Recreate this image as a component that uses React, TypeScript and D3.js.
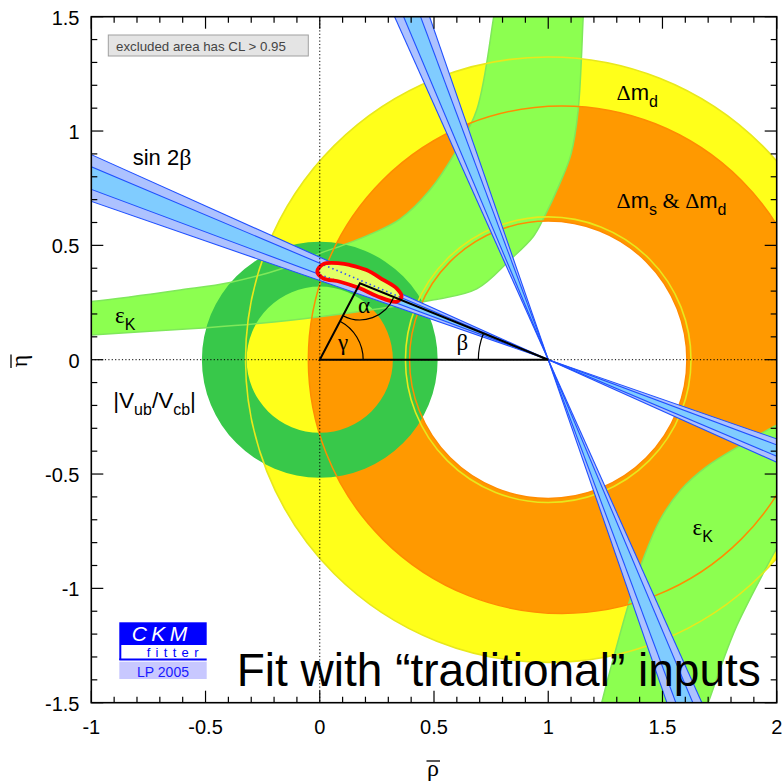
import React from "react";
import * as d3 from "d3";

const WIDTH = 782;
const HEIGHT = 784;

const rhoDomain = [-1, 2];
const etaDomain = [-1.5, 1.5];
const rhoTickValues = [-1, -0.5, 0, 0.5, 1, 1.5, 2];
const rhoTickLabels = ["-1", "-0.5", "0", "0.5", "1", "1.5", "2"];
const etaTickValues = [-1.5, -1, -0.5, 0, 0.5, 1, 1.5];
const etaTickLabels = ["-1.5", "-1", "-0.5", "0", "0.5", "1", "1.5"];

// Δm_d ring (centre, radii)
const dmdCenter = [1, 0];
const dmdRadii = [0.625, 1.325];
// Δm_s & Δm_d region: inner circle and outer circle [cx, cy, r]
const dmsInnerCircle = [1, 0, 0.607];
const dmsOuterCircle = [1.06, 0, 1.11];
// |Vub/Vcb| ring
const vubCenter = [0, 0];
const vubRadii = [0.32, 0.516];
// sin 2β: β ranges in degrees
const betaOuterRange = [19.1, 24.15];
const betaInnerRange = [20.43, 22.88];

// ε_K boundaries [ρ, η]
const epsKUpperTop = [
  [-1.1, 0.245], [-1, 0.254], [-0.611, 0.305], [-0.393, 0.338], [-0.16, 0.4],
  [0, 0.465], [0.1, 0.5], [0.22, 0.548], [0.351, 0.615], [0.48, 0.74],
  [0.599, 0.917], [0.687, 1.092], [0.759, 1.485], [0.775, 1.6],
];
const epsKUpperBottom = [
  [-1.1, 0.1], [-1, 0.108], [-0.495, 0.14], [-0.26, 0.159], [0, 0.188],
  [0.25, 0.222], [0.5, 0.262], [0.687, 0.31], [0.832, 0.436], [0.934, 0.538],
  [0.978, 0.615], [1.051, 0.771], [1.1, 0.9], [1.131, 1.09], [1.153, 1.5], [1.158, 1.6],
];
const epsKLowerInner = [
  [1.21, -1.6], [1.234, -1.5], [1.299, -1.255], [1.357, -1.051], [1.42, -0.86],
  [1.489, -0.701], [1.58, -0.57], [1.693, -0.468], [1.85, -0.37], [2.0, -0.286], [2.1, -0.24],
];
const epsKLowerOuter = [
  [1.66, -1.6], [1.7, -1.5], [1.76, -1.33], [1.824, -1.167], [1.926, -0.963],
  [2.0, -0.825], [2.08, -0.7],
];

// best fit apex and 95% CL contour
const apex = [0.176, 0.334];
const clContour = [
  [0.0153, 0.418], [0.0884, 0.4215], [0.132, 0.414], [0.205, 0.392], [0.278, 0.349],
  [0.3365, 0.312], [0.358, 0.2755], [0.3365, 0.2536], [0.249, 0.2785], [0.176, 0.312],
  [0.0884, 0.341], [0.0153, 0.356], [-0.011, 0.385],
];

const SANS = "'Liberation Sans', Arial, Helvetica, sans-serif";
const SERIF = "'Liberation Serif', 'DejaVu Serif', serif";

export default function App() {
  const left = 91.3, right = 776.7, top = 16.7, bottom = 702.7;
  const x = d3.scaleLinear().domain(rhoDomain).range([left, right]);
  const y = d3.scaleLinear().domain(etaDomain).range([bottom, top]);
  const rpx = (r: number) => x(r) - x(0);

  const circle = (cx: number, cy: number, r: number) => {
    const X = x(cx), Y = y(cy), R = rpx(r);
    return `M${X + R},${Y}A${R},${R} 0 1 0 ${X - R},${Y}A${R},${R} 0 1 0 ${X + R},${Y}Z`;
  };

  const curve = d3
    .line<number[]>()
    .x((d) => x(d[0]))
    .y((d) => y(d[1]))
    .curve(d3.curveCatmullRom.alpha(0.5));
  const closedCurve = d3
    .line<number[]>()
    .x((d) => x(d[0]))
    .y((d) => y(d[1]))
    .curve(d3.curveCatmullRomClosed.alpha(0.5));

  const band = (a: number[][], b: number[][]) =>
    (curve(a) as string) + (curve(b.slice().reverse()) as string).replace(/^M/, "L") + "Z";

  const dmdPath = circle(dmdCenter[0], dmdCenter[1], dmdRadii[1]) + circle(dmdCenter[0], dmdCenter[1], dmdRadii[0]);
  const dmsPath =
    circle(dmsOuterCircle[0], dmsOuterCircle[1], dmsOuterCircle[2]) +
    circle(dmsInnerCircle[0], dmsInnerCircle[1], dmsInnerCircle[2]);
  const vubPath = circle(vubCenter[0], vubCenter[1], vubRadii[1]) + circle(vubCenter[0], vubCenter[1], vubRadii[0]);

  // sin2β wedges through (1,0)
  const deg = Math.PI / 180;
  const L = 4;
  const ptAt = (phi: number, l: number) => [1 + l * Math.cos(phi * deg), l * Math.sin(phi * deg)];
  const wedge = (p1: number, p2: number) => {
    const a = [[1, 0], ptAt(p1, L), ptAt(p2, L)];
    const b = [[1, 0], ptAt(p1, -L), ptAt(p2, -L)];
    const f = (pts: number[][]) => "M" + pts.map((p) => `${x(p[0])},${y(p[1])}`).join("L") + "Z";
    return f(a) + f(b);
  };
  const fullLine = (phi: number) => {
    const a = ptAt(phi, L), b = ptAt(phi, -L);
    return `M${x(a[0])},${y(a[1])}L${x(b[0])},${y(b[1])}`;
  };
  const bandGroups = [(b: number) => 180 - b, (b: number) => 90 + b];

  // ticks
  const minor = d3.range(-15, 21).map((i) => i / 10);
  const isMajor = (v: number) => Math.abs(v * 2 - Math.round(v * 2)) < 1e-6;

  // triangle & angles
  const O = [x(0), y(0)];
  const B = [x(1), y(0)];
  const A = [x(apex[0]), y(apex[1])];
  const ang = (from: number[], to: number[]) => Math.atan2(to[1] - from[1], to[0] - from[0]);
  const gR = rpx(0.19);
  const gA0 = ang(O, A);
  const gammaArc = d3.path();
  gammaArc.moveTo(O[0] + gR * Math.cos(gA0), O[1] + gR * Math.sin(gA0));
  gammaArc.arc(O[0], O[1], gR, gA0, 0, false);
  const alphaArc = d3.path();
  const aR = rpx(0.16);
  const a0 = ang(A, B), a1 = ang(A, O);
  alphaArc.moveTo(A[0] + aR * Math.cos(a0), A[1] + aR * Math.sin(a0));
  alphaArc.arc(A[0], A[1], aR, a0, a1, false);
  const betaArc = d3.path();
  const bR = rpx(0.306);
  const b0 = Math.PI, b1 = ang(B, A) + 2 * Math.PI;
  betaArc.moveTo(B[0] + bR * Math.cos(b0), B[1] + bR * Math.sin(b0));
  betaArc.arc(B[0], B[1], bR, b0, b1, false);

  const tickFont = 20;

  return (
    <svg width={WIDTH} height={HEIGHT} style={{ position: "absolute", left: 0, top: 0, background: "#fff" }}>
      <defs>
        <clipPath id="plot">
          <rect x={left} y={top} width={right - left} height={bottom - top} />
        </clipPath>
        <clipPath id="contour">
          <path d={closedCurve(clContour) as string} />
        </clipPath>
      </defs>

      <g clipPath="url(#plot)">
        {/* Δm_d */}
        <path d={dmdPath} fill="#ffff1a" fillRule="evenodd" />
        {/* Δm_s & Δm_d */}
        <path d={dmsPath} fill="#ff9900" fillRule="evenodd" />
        {/* ε_K */}
        <path d={band(epsKUpperTop, epsKUpperBottom)} fill="#8cff50" />
        <path d={band(epsKLowerInner, epsKLowerOuter)} fill="#8cff50" />
        {/* |Vub/Vcb| */}
        <path d={vubPath} fill="#38c84a" fillRule="evenodd" />

        {/* contour lines */}
        {[epsKUpperTop, epsKUpperBottom, epsKLowerInner, epsKLowerOuter].map((b, i) => (
          <path key={"ek" + i} d={curve(b) as string} fill="none" stroke="#7fe85a" strokeWidth={1.5} />
        ))}
        {dmdRadii.map((r, i) => (
          <path key={"dl" + i} d={circle(dmdCenter[0], dmdCenter[1], r)} fill="none" stroke="#e8e81c" strokeWidth={1.6} />
        ))}
        <path d={circle(dmsOuterCircle[0], dmsOuterCircle[1], dmsOuterCircle[2])} fill="none" stroke="#ff8c00" strokeWidth={1.5} />
        <path d={circle(dmsInnerCircle[0], dmsInnerCircle[1], dmsInnerCircle[2])} fill="none" stroke="#ff8c00" strokeWidth={1.5} />

        {/* sin 2β */}
        {bandGroups.map((f, i) => (
          <g key={"bg" + i}>
            <path d={wedge(f(betaOuterRange[0]), f(betaOuterRange[1]))} fill="#adc2ff" />
            <path d={wedge(f(betaInnerRange[0]), f(betaInnerRange[1]))} fill="#80ccff" />
            {[...betaOuterRange, ...betaInnerRange].map((b, j) => (
              <path key={j} d={fullLine(f(b))} stroke="#2050ff" strokeWidth={1.1} fill="none" />
            ))}
          </g>
        ))}

        {/* CL contour */}
        <path d={closedCurve(clContour) as string} fill="#e2ff66" stroke="none" />
        <g clipPath="url(#contour)">
          {betaInnerRange.map((b, j) => (
            <path key={j} d={fullLine(180 - b)} stroke="#3050ff" strokeWidth={1.6} strokeDasharray="1.5,3" fill="none" />
          ))}
        </g>
        <path d={closedCurve(clContour) as string} fill="none" stroke="#ff0000" strokeWidth={3.8} />

        {/* dotted axes */}
        <line x1={x(0)} x2={x(0)} y1={top} y2={bottom} stroke="#000" strokeWidth={1} strokeDasharray="1.2,2.2" />
        <line x1={left} x2={right} y1={y(0)} y2={y(0)} stroke="#000" strokeWidth={1} strokeDasharray="1.2,2.2" />

        {/* triangle */}
        <path d={`M${O[0]},${O[1]}L${B[0]},${B[1]}L${A[0]},${A[1]}Z`} fill="none" stroke="#000" strokeWidth={2} strokeLinejoin="miter" />
        <path d={gammaArc.toString()} fill="none" stroke="#000" strokeWidth={1.2} />
        <path d={alphaArc.toString()} fill="none" stroke="#000" strokeWidth={1.2} />
        <path d={betaArc.toString()} fill="none" stroke="#000" strokeWidth={1.2} />
      </g>

      {/* frame */}
      <rect x={left} y={top} width={right - left} height={bottom - top} fill="none" stroke="#000" strokeWidth={1.6} />
      {minor.filter((v) => v >= -1 - 1e-9 && v <= 2 + 1e-9).map((v, i) => {
        const len = isMajor(v) ? 12 : 6;
        return (
          <g key={"xt" + i}>
            <line x1={x(v)} x2={x(v)} y1={bottom} y2={bottom - len} stroke="#000" strokeWidth={1.2} />
            <line x1={x(v)} x2={x(v)} y1={top} y2={top + len} stroke="#000" strokeWidth={1.2} />
          </g>
        );
      })}
      {minor.filter((v) => v >= -1.5 - 1e-9 && v <= 1.5 + 1e-9).map((v, i) => {
        const len = isMajor(v) ? 12 : 6;
        return (
          <g key={"yt" + i}>
            <line x1={left} x2={left + len} y1={y(v)} y2={y(v)} stroke="#000" strokeWidth={1.2} />
            <line x1={right} x2={right - len} y1={y(v)} y2={y(v)} stroke="#000" strokeWidth={1.2} />
          </g>
        );
      })}
      {rhoTickValues.map((v, i) => (
        <text key={"xl" + i} x={x(v)} y={734} textAnchor="middle" fontFamily={SANS} fontSize={tickFont} fill="#000">
          {rhoTickLabels[i]}
        </text>
      ))}
      {etaTickValues.map((v, i) => (
        <text key={"yl" + i} x={79.5} y={y(v) + 8} textAnchor="end" fontFamily={SANS} fontSize={tickFont} fill="#000">
          {etaTickLabels[i]}
        </text>
      ))}

      {/* axis titles */}
      <text x={433} y={776} textAnchor="middle" fontFamily={SERIF} fontSize={24}>ρ</text>
      <line x1={426.5} x2={440} y1={761} y2={761} stroke="#000" strokeWidth={1.3} />
      <text transform="translate(27,361) rotate(-90)" textAnchor="middle" fontFamily={SERIF} fontSize={24}>η</text>
      <line x1={11} x2={11} y1={354.5} y2={368} stroke="#000" strokeWidth={1.3} />

      {/* legend box */}
      <rect x={108.3} y={35} width={200} height={21} fill="#e4e4e4" stroke="#a0a0a0" strokeWidth={1} />
      <text x={116} y={51} fontFamily={SANS} fontSize={13.3} fill="#444">excluded area has CL &gt; 0.95</text>

      {/* region labels */}
      <text x={x(-0.819)} y={y(0.852)} fontFamily={SANS} fontSize={22}>
        sin 2<tspan fontFamily={SERIF} fontSize={24}>β</tspan>
      </text>
      <text x={x(1.299)} y={y(1.136)} fontFamily={SANS} fontSize={22}>
        <tspan fontFamily={SERIF}>Δ</tspan>m<tspan fontSize={16} dy={7}>d</tspan>
      </text>
      <text x={x(1.299)} y={y(0.662)} fontFamily={SANS} fontSize={22}>
        <tspan fontFamily={SERIF}>Δ</tspan>m<tspan fontSize={16} dy={7}>s</tspan>
        <tspan dy={-7} fontFamily={SERIF}> &amp; Δ</tspan>m<tspan fontSize={16} dy={7}>d</tspan>
      </text>
      <text x={x(-0.896)} y={y(0.16)} fontFamily={SANS} fontSize={23}>
        <tspan fontFamily={SERIF}>ε</tspan><tspan fontSize={16} dy={7}>K</tspan>
      </text>
      <text x={x(1.632)} y={y(-0.767)} fontFamily={SANS} fontSize={23}>
        <tspan fontFamily={SERIF}>ε</tspan><tspan fontSize={16} dy={7}>K</tspan>
      </text>
      <text x={x(-0.904)} y={y(-0.211)} fontFamily={SANS} fontSize={22.5}>
        |V<tspan fontSize={16} dy={7}>ub</tspan><tspan dy={-7}>/V</tspan><tspan fontSize={16} dy={7}>cb</tspan><tspan dy={-7}>|</tspan>
      </text>
      <text x={x(0.167)} y={y(0.204)} fontFamily={SERIF} fontSize={23}>α</text>
      <text x={x(0.08)} y={y(0.042)} fontFamily={SERIF} fontSize={23}>γ</text>
      <text x={x(0.599)} y={y(0.042)} fontFamily={SERIF} fontSize={23}>β</text>

      {/* CKMfitter logo */}
      <rect x={119.3} y={622.3} width={87.4} height={22.7} fill="#0000ff" />
      <text x={131.7} y={641} fontFamily={SANS} fontStyle="italic" fontSize={21} fill="#fff" letterSpacing={4.5}>CKM</text>
      <rect x={119.3} y={645} width={87.4} height={15} fill="#fff" />
      <line x1={120.3} x2={120.3} y1={645} y2={660} stroke="#0000ff" strokeWidth={2} />
      <line x1={119.3} x2={206.7} y1={659.5} y2={659.5} stroke="#0000ff" strokeWidth={2} />
      <text x={146.7} y={656.5} fontFamily={SANS} fontSize={13} fill="#0000ff" letterSpacing={5.3}>fitter</text>
      <rect x={119.3} y={661.7} width={87.4} height={17.3} fill="#c8c8ff" />
      <text x={163} y={676.5} textAnchor="middle" fontFamily={SANS} fontSize={14} fill="#1a1aff">LP 2005</text>

      {/* title */}
      <text x={236.7} y={686} fontFamily={SANS} fontSize={46} fill="#000">Fit with “traditional” inputs</text>
    </svg>
  );
}
